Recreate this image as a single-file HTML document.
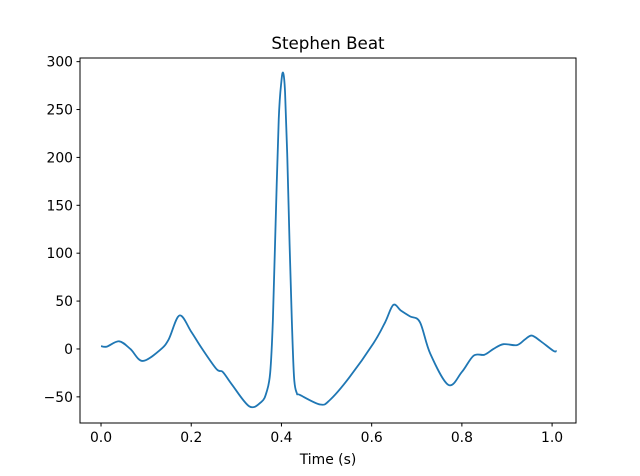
<!DOCTYPE html>
<html><head><meta charset="utf-8"><style>
body{margin:0;background:#fff;}
svg{display:block;font-family:"DejaVu Sans","Liberation Sans",sans-serif;}
</style></head><body>
<svg id="chart" width="640" height="476">
<text x="328" y="49" font-size="16.7" text-anchor="middle">Stephen Beat</text>
<g id="plot"></g>
<rect x="80" y="58" width="496" height="365" fill="none" stroke="#000" stroke-width="1"/>
<text x="328" y="464" font-size="13.9" text-anchor="middle">Time (s)</text>
</svg>
<script>
const times=[0,0.013,0.04,0.065,0.092,0.131,0.15,0.174,0.2,0.223,0.256,0.27,0.29,0.329,0.356,0.367,0.375,0.381,0.387,0.394,0.4,0.404,0.408,0.413,0.418,0.423,0.428,0.434,0.441,0.486,0.508,0.55,0.604,0.63,0.648,0.665,0.685,0.707,0.73,0.77,0.8,0.826,0.85,0.87,0.892,0.922,0.94,0.955,0.975,1.003,1.01];
const values=[3,2.5,8,0,-12.5,-1,10,35,18,1,-21,-24,-37,-60,-55,-45,-25,30,130,240,280,288,268,200,110,30,-30,-46,-48,-58,-53,-30,6,28,46,40,34,28,-5,-37.5,-24,-7,-6,0,5,4,10,14,8,-2,-2];
const xTicks=[0,0.2,0.4,0.6,0.8,1.0];
const xTickLabels=["0.0","0.2","0.4","0.6","0.8","1.0"];
const yTicks=[-50,0,50,100,150,200,250,300];
const yTickLabels=["−50","0","50","100","150","200","250","300"];
const L=80,R=576,T=58,B=423;
const xMin=-0.0466,xMax=1.053,yMin=-77.3,yMax=303.8;
const xs=v=>L+(v-xMin)/(xMax-xMin)*(R-L);
const ys=v=>B-(v-yMin)/(yMax-yMin)*(B-T);
const NS="http://www.w3.org/2000/svg";
const g=document.getElementById('plot');
function mk(t,a){const e=document.createElementNS(NS,t);for(const k in a)e.setAttribute(k,a[k]);return e;}
xTicks.forEach((t,i)=>{
 const x=xs(t);
 const l=mk('line',{x1:x,x2:x,y1:B,y2:B+3.5,stroke:'#000'});
 
 
 g.appendChild(l);
 const tx=mk('text',{x:x,y:B+19,'font-size':13.9,'text-anchor':'middle'});
 tx.textContent=xTickLabels[i];
 
 
 g.appendChild(tx);
});
yTicks.forEach((t,i)=>{
 const y=ys(t);
 const l=mk('line',{x1:L-3.5,x2:L,y1:y,y2:y,stroke:'#000'});
 
 
 g.appendChild(l);
 const tx=mk('text',{x:L-7,y:y+5,'font-size':13.9,'text-anchor':'end'});
 tx.textContent=yTickLabels[i];
 
 
 g.appendChild(tx);
});
const P=times.map((t,i)=>[xs(t),ys(values[i])]);
let d='M'+P[0][0]+','+P[0][1];
for(let i=0;i<P.length-1;i++){
 const p0=P[Math.max(0,i-1)],p1=P[i],p2=P[i+1],p3=P[Math.min(P.length-1,i+2)];
 const c1=[p1[0]+(p2[0]-p0[0])/6,p1[1]+(p2[1]-p0[1])/6];
 const c2=[p2[0]-(p3[0]-p1[0])/6,p2[1]-(p3[1]-p1[1])/6];
 d+=' C'+c1[0]+','+c1[1]+' '+c2[0]+','+c2[1]+' '+p2[0]+','+p2[1];
}
const path=mk('path',{d:d,fill:'none',stroke:'#1f77b4','stroke-width':1.8,'stroke-linejoin':'round'});


g.appendChild(path);
</script>
</body></html>
